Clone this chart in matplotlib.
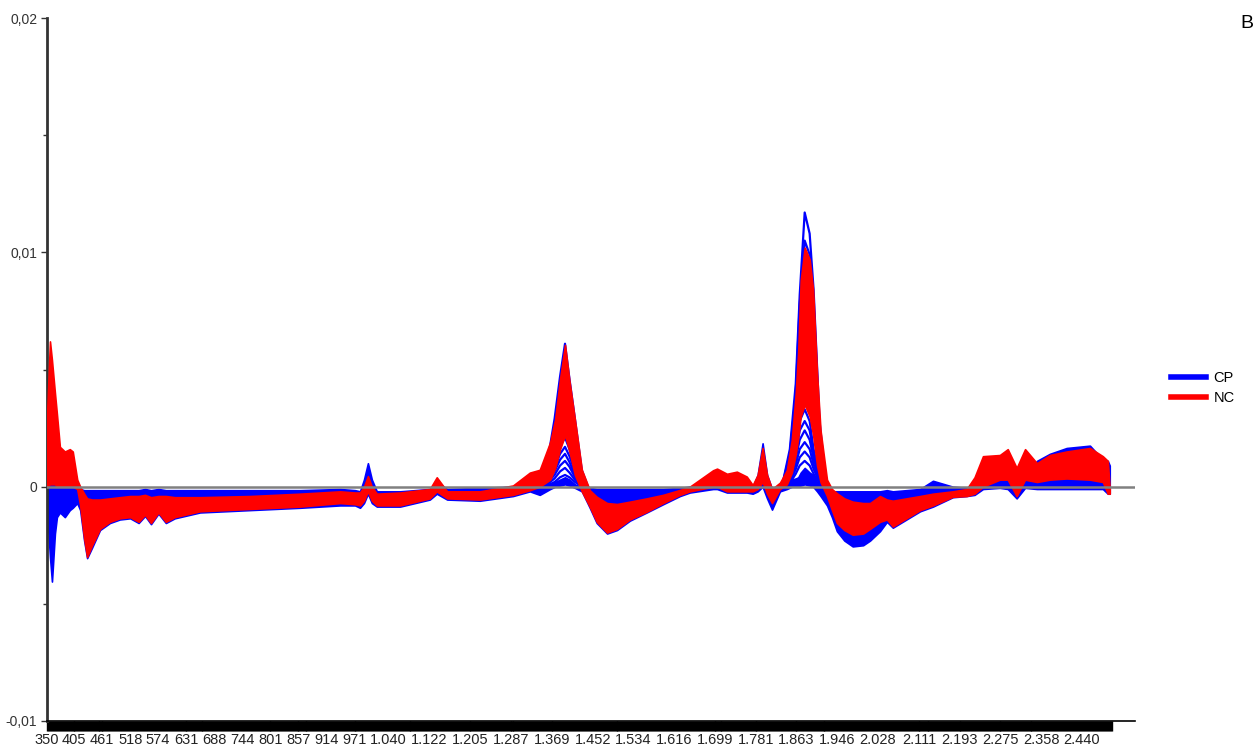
import numpy as np
import matplotlib
matplotlib.use("Agg")
import matplotlib.pyplot as plt
from matplotlib.lines import Line2D
from matplotlib.ticker import FixedLocator

# wavelength nodes (nm) and envelope of the derivative spectra (x 1e-3)
wl = [
    350, 356, 360, 366, 370, 376, 386, 396, 402, 411,
    417, 425, 431, 441, 457, 477, 497, 518, 535, 548,
    560, 575, 590, 608, 659, 760, 861, 942, 972, 982,
    990, 998, 1006, 1016, 1063, 1123, 1137, 1158, 1224, 1291,
    1325, 1345, 1366, 1376, 1386, 1396, 1405, 1416, 1430, 1446,
    1460, 1481, 1501, 1527, 1561, 1594, 1628, 1648, 1695, 1703,
    1723, 1743, 1763, 1775, 1785, 1795, 1804, 1814, 1830, 1844,
    1854, 1862, 1867, 1872, 1880, 1890, 1897, 1905, 1912, 1925,
    1935, 1945, 1960, 1977, 1998, 2012, 2032, 2046, 2058, 2113,
    2139, 2179, 2207, 2223, 2240, 2274, 2290, 2308, 2325, 2349,
    2375, 2409, 2456, 2482, 2492, 2496,
]

nc_hi = [
    3.0, 6.2, 5.4, 4.0, 3.1, 1.7, 1.5, 1.6, 1.5, 0.3,
    0.0, -0.3, -0.5, -0.55, -0.55, -0.5, -0.45, -0.4, -0.4, -0.35,
    -0.45, -0.4, -0.4, -0.45, -0.45, -0.4, -0.3, -0.2, -0.25, -0.25,
    0.0, 0.45, 0.0, -0.3, -0.25, -0.1, 0.4, -0.2, -0.2, 0.05,
    0.6, 0.72, 1.9, 2.86, 4.6, 6.05, 4.5, 2.86, 0.72, -0.15,
    -0.43, -0.7, -0.74, -0.64, -0.5, -0.35, -0.14, 0.0, 0.7, 0.77,
    0.55, 0.64, 0.43, 0.07, 0.5, 1.65, 0.5, -0.1, 0.17, 0.7,
    2.0, 4.0, 5.8, 8.8, 10.2, 9.7, 8.4, 4.8, 2.4, 0.3,
    -0.1, -0.28, -0.5, -0.64, -0.7, -0.7, -0.4, -0.55, -0.6, -0.4,
    -0.3, -0.2, -0.1, 0.4, 1.3, 1.35, 1.6, 0.8, 1.6, 1.0,
    1.35, 1.5, 1.65, 1.3, 1.1, -0.1,
]

nc_lo = [
    0.0, 0.1, 0.1, 0.1, 0.0, 0.0, 0.0, 0.0, 0.0, -0.1,
    -0.8, -2.2, -3.0, -2.5, -1.8, -1.5, -1.35, -1.3, -1.5, -1.2,
    -1.55, -1.1, -1.5, -1.3, -1.05, -0.95, -0.85, -0.7, -0.75, -0.8,
    -0.6, -0.2, -0.6, -0.8, -0.8, -0.5, -0.2, -0.5, -0.55, -0.35,
    -0.15, 0.0, 0.3, 0.8, 1.6, 2.2, 1.5, 0.5, -0.2, -0.85,
    -1.5, -1.96, -1.8, -1.4, -1.07, -0.7, -0.35, -0.2, 0.0, 0.0,
    -0.2, -0.2, -0.2, -0.2, -0.1, 0.2, -0.3, -0.7, -0.1, 0.1,
    0.6, 1.4, 2.1, 3.0, 3.5, 3.0, 2.2, 0.9, 0.2, -0.4,
    -1.0, -1.55, -1.85, -2.05, -2.0, -1.8, -1.5, -1.4, -1.7, -1.0,
    -0.8, -0.43, -0.4, -0.3, 0.0, 0.3, 0.3, -0.4, 0.3, 0.2,
    0.3, 0.35, 0.3, 0.2, -0.3, -0.3,
]

cp_hi = [
    0.2, 0.2, 0.2, 0.2, 0.15, 0.15, 0.15, 0.1, 0.1, 0.0,
    -0.1, -0.15, -0.15, -0.15, -0.15, -0.15, -0.15, -0.15, -0.15, -0.1,
    -0.15, -0.1, -0.15, -0.15, -0.15, -0.15, -0.15, -0.1, -0.15, -0.2,
    0.3, 1.0, 0.3, -0.2, -0.2, -0.1, 0.2, -0.1, -0.05, 0.0,
    0.05, -0.05, 0.1, 0.2, 0.3, 0.4, 0.3, 0.1, -0.05, -0.05,
    -0.1, -0.1, -0.1, -0.1, -0.1, -0.1, -0.05, 0.0, 0.1, 0.1,
    0.1, 0.1, 0.1, 0.0, 0.5, 1.85, 0.5, -0.1, 0.0, 0.2,
    0.3, 0.35, 0.4, 0.6, 0.8, 0.6, 0.5, 0.2, 0.0, -0.2,
    -0.2, -0.2, -0.2, -0.2, -0.2, -0.2, -0.2, -0.15, -0.2, -0.1,
    0.25, 0.0, -0.05, 0.0, 0.25, 0.3, 0.3, 0.1, 0.3, 1.1,
    1.4, 1.65, 1.75, 1.15, 1.1, 0.9,
]

cp_lo = [
    -1.0, -3.0, -4.05, -2.0, -1.3, -1.1, -1.3, -1.0, -0.9, -0.7,
    -1.0, -2.3, -3.05, -2.6, -1.85, -1.55, -1.4, -1.35, -1.55, -1.25,
    -1.6, -1.15, -1.55, -1.35, -1.1, -1.0, -0.9, -0.8, -0.8, -0.9,
    -0.7, -0.3, -0.7, -0.85, -0.85, -0.55, -0.3, -0.55, -0.6, -0.4,
    -0.2, -0.35, -0.1, 0.0, 0.05, 0.1, 0.05, -0.05, -0.2, -0.9,
    -1.55, -2.0, -1.85, -1.45, -1.1, -0.75, -0.4, -0.25, -0.1, -0.1,
    -0.25, -0.25, -0.25, -0.3, -0.2, 0.0, -0.5, -0.98, -0.2, -0.1,
    0.0, 0.0, 0.0, 0.05, 0.1, 0.05, 0.0, -0.2, -0.4, -0.8,
    -1.3, -1.9, -2.3, -2.55, -2.5, -2.3, -1.9, -1.5, -1.75, -1.05,
    -0.85, -0.45, -0.4, -0.35, -0.1, -0.05, -0.1, -0.5, -0.05, -0.1,
    -0.1, -0.1, -0.1, -0.1, -0.3, -0.3,
]

# single CP spectra around the two absorption peaks
peak1_wl = [1340, 1360, 1375, 1386, 1396, 1405, 1416, 1430, 1446]
peak1_cp = [
    [0.0, 1.0, 2.9, 4.7, 6.1, 4.6, 2.9, 0.7, -0.2],
    [0.0, 0.3, 1.0, 1.7, 2.1, 1.6, 0.8, 0.1, -0.2],
    [0.0, 0.25, 0.8, 1.4, 1.7, 1.3, 0.65, 0.05, -0.2],
    [0.0, 0.2, 0.65, 1.15, 1.4, 1.05, 0.5, 0.0, -0.2],
    [0.0, 0.15, 0.5, 0.9, 1.1, 0.85, 0.4, 0.0, -0.2],
    [0.0, 0.1, 0.35, 0.65, 0.8, 0.6, 0.3, 0.0, -0.2],
    [0.0, 0.05, 0.2, 0.4, 0.5, 0.4, 0.2, 0.0, -0.2],
]

peak2_wl = [1835, 1850, 1862, 1870, 1880, 1890, 1898, 1910, 1925]
peak2_cp = [
    [0.1, 1.6, 4.4, 8.2, 11.7, 10.8, 8.4, 2.8, -0.3],
    [0.1, 1.4, 4.0, 7.8, 10.5, 9.9, 7.8, 2.5, -0.3],
    [0.0, 0.5, 1.6, 2.8, 3.3, 2.8, 1.6, 0.4, -0.3],
    [0.0, 0.4, 1.4, 2.4, 2.8, 2.4, 1.4, 0.35, -0.3],
    [0.0, 0.35, 1.2, 2.0, 2.4, 2.0, 1.2, 0.3, -0.3],
    [0.0, 0.3, 0.95, 1.6, 1.9, 1.6, 0.95, 0.25, -0.3],
    [0.0, 0.2, 0.75, 1.25, 1.5, 1.25, 0.75, 0.2, -0.3],
    [0.0, 0.15, 0.55, 0.9, 1.1, 0.9, 0.55, 0.15, -0.3],
]

xtick_vals = [350, 405, 461, 518, 574, 631, 688, 744, 801, 857, 914, 971,
              1040, 1122, 1205, 1287, 1369, 1452, 1534, 1616, 1699, 1781,
              1863, 1946, 2028, 2111, 2193, 2275, 2358, 2440]
ytick_vals = [-10, 0, 10, 20]
ytick_labels = ["-0,01", "0", "0,01", "0,02"]

BLUE = "#0000ff"
RED = "#ff0000"
SANS = ["Liberation Sans", "DejaVu Sans"]


def fmt_nm(v):
    return f"{v:,}".replace(",", ".")


fig = plt.figure(figsize=(12.58, 7.49), dpi=100)
ax = fig.add_axes([47 / 1258, 1 - 721 / 749, (1135 - 47) / 1258, (721 - 18) / 749])

ax.fill_between(wl, cp_lo, cp_hi, color=BLUE, lw=1.2, zorder=2)
for curve in peak1_cp:
    ax.plot(peak1_wl, curve, color=BLUE, lw=1.6, zorder=2)
for curve in peak2_cp:
    ax.plot(peak2_wl, curve, color=BLUE, lw=1.6, zorder=2)
ax.fill_between(wl, nc_lo, nc_hi, color=RED, lw=1.2, zorder=3)

ax.axhline(0, color="#808080", lw=1.8, zorder=5)

ax.set_xlim(350, 2547)
ax.set_ylim(-10, 20)

for s in ("top", "right"):
    ax.spines[s].set_visible(False)
ax.spines["left"].set_color("#333333")
ax.spines["left"].set_linewidth(2)
ax.spines["bottom"].set_color("black")
ax.spines["bottom"].set_linewidth(1.2)

ax.set_yticks(ytick_vals)
ax.set_yticklabels(ytick_labels, fontsize=10, color="#333333", family=SANS)
ax.yaxis.set_minor_locator(FixedLocator([-5, 5, 15]))
ax.tick_params(axis="y", which="major", length=4, width=1, color="#333333", pad=3)
ax.tick_params(axis="y", which="minor", length=3, width=1, color="#333333")

ax.set_xticks(xtick_vals)
ax.set_xticklabels([fmt_nm(v) for v in xtick_vals], fontsize=10.5, color="#222222",
                   family=SANS)
ax.xaxis.set_minor_locator(FixedLocator(np.arange(350, 2501, 2)))
ax.tick_params(axis="x", which="both", length=7, width=1, color="black", pad=2)

handles = [Line2D([], [], color=BLUE, lw=4), Line2D([], [], color=RED, lw=4)]
fig.legend(handles, ["CP", "NC"], loc="center left",
           bbox_to_anchor=(1158 / 1258, 1 - 388 / 749), frameon=False,
           handlelength=2.4, handletextpad=0.5, labelspacing=0.4,
           prop={"family": SANS, "size": 10.5})

fig.text(1247 / 1258, 1 - 23 / 749, "B", fontsize=14, ha="center", va="center",
         family=SANS)

fig.savefig("out.png", dpi=100, facecolor="white")
